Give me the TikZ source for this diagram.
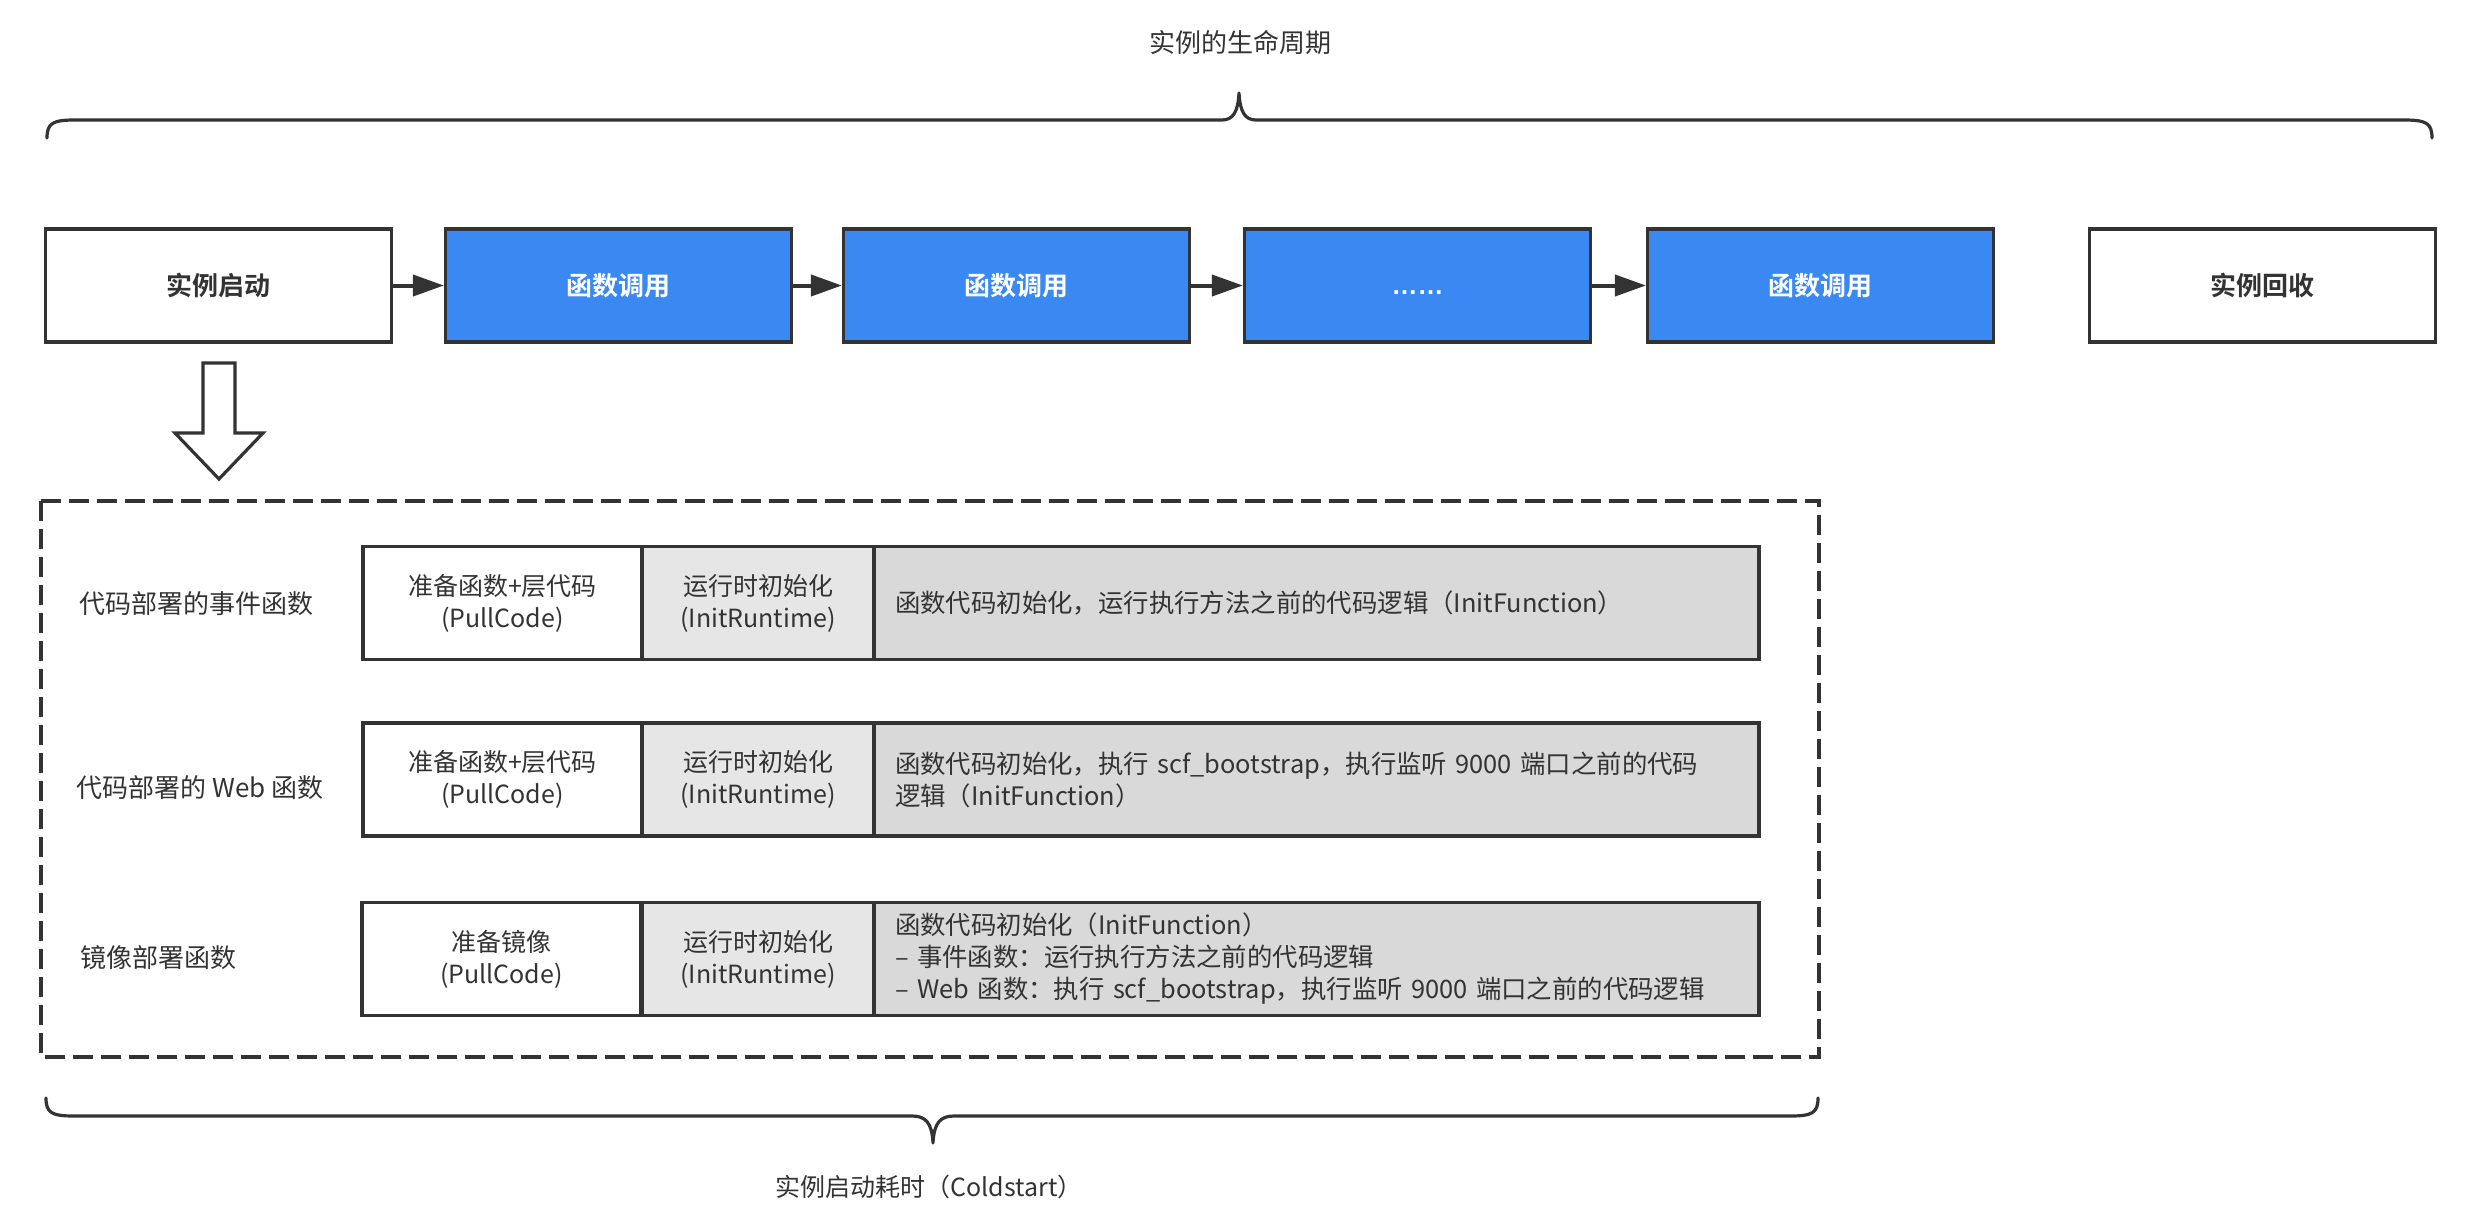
\documentclass[tikz,border=0pt]{standalone}
\usepackage{fontspec}
\setmainfont{Noto Sans CJK SC}[BoldFont={Noto Sans CJK SC Bold}]
\newfontfamily\latf{Liberation Sans}
\usetikzlibrary{arrows.meta}
\definecolor{dk}{HTML}{333333}
\definecolor{blu}{HTML}{3A89F3}
\definecolor{ga}{HTML}{E6E6E6}
\definecolor{gb}{HTML}{D9D9D9}
\begin{document}
\begin{tikzpicture}[x=0.5pt,y=-0.5pt,
  topbox/.style={draw=dk,line width=1.6pt,minimum width=173pt,minimum height=56.5pt,inner sep=0pt,
    font=\bfseries\fontsize{13}{16}\selectfont,text=dk,fill=white},
  bluebox/.style={topbox,fill=blu,text=white},
  conn/.style={draw=dk,line width=2pt,-{Triangle[length=15.5pt,width=10.5pt]}},
  cell/.style={draw=dk,line width=1.6pt,minimum height=56.5pt,inner sep=0pt,align=center,
    font=\fontsize{12.5}{16}\selectfont,text=dk},
  cella/.style={cell,fill=white,minimum width=139.5pt},
  cellb/.style={cell,fill=ga,minimum width=116pt},
  cellc/.style={cell,fill=gb,minimum width=442.5pt,text width=421.5pt,inner xsep=10.5pt,align=left,
    font=\fontsize{12.7}{16}\selectfont},
  rowlabel/.style={anchor=west,inner sep=0pt,font=\fontsize{13}{16}\selectfont,text=dk},
  plain/.style={inner sep=0pt,font=\fontsize{13}{16}\selectfont,text=dk},
  brace/.style={draw=dk,line width=1.6pt,line cap=round,line join=round},
]
\useasboundingbox (0,0) rectangle (2484,1226);

% title and top brace
\node[plain] (title) at (1240,43) {实例的生命周期};
\draw[brace] (47,138) .. controls (47,123) and (53,120) .. (75,120) -- (1222,120)
  .. controls (1233,120) and (1238,112) .. (1239,93)
  .. controls (1240,112) and (1245,120) .. (1256,120) -- (2404,120)
  .. controls (2426,120) and (2432,123) .. (2432,138);

% top row
\node[topbox]  (b1) at (218.5,285.5) {实例启动};
\node[bluebox] (b2) at (618.5,285.5) {函数调用};
\node[bluebox] (b3) at (1016.5,285.5) {函数调用};
\node[bluebox] (b4) at (1417.5,285.5) {\vphantom{函}{\latf ……}};
\node[bluebox] (b5) at (1820.5,285.5) {函数调用};
\node[topbox]  (b6) at (2262.5,285.5) {实例回收};
\draw[conn] (b1) -- (b2);
\draw[conn] (b2) -- (b3);
\draw[conn] (b3) -- (b4);
\draw[conn] (b4) -- (b5);

% hollow down arrow
\draw[draw=dk,line width=1.6pt,fill=white,line join=miter]
  (203,363) -- (235,363) -- (235,433) -- (263,433) -- (219,479) -- (175,433) -- (203,433) -- cycle;

% dashed container
\draw[draw=dk,line width=1.6pt,dash pattern=on 10pt off 4pt] (41,501) rectangle (1819,1057);

% row labels
\node[rowlabel] (l1) at (79,604) {代码部署的事件函数};
\node[rowlabel] (l2) at (76,788) {代码部署的 Web 函数};
\node[rowlabel] (l3) at (80,958) {镜像部署函数};

% row 1
\node[cella] (r1a) at (502.5,603) {准备函数+层代码\\(PullCode)};
\node[cellb] (r1b) at (758,603) {运行时初始化\\(InitRuntime)};
\node[cellc] (r1c) at (1316.5,603) {\mbox{函数代码初始化，运行执行方法之前的代码逻辑（InitFunction）}};

% row 2
\node[cella] (r2a) at (502.5,779.5) {准备函数+层代码\\(PullCode)};
\node[cellb] (r2b) at (758,779.5) {运行时初始化\\(InitRuntime)};
\node[cellc] (r2c) at (1316.5,779.5) {\mbox{函数代码初始化，执行 scf\_bootstrap，执行监听 9000 端口之前的代码}\\\mbox{逻辑（InitFunction）}};

% row 3
\node[cella] (r3a) at (501.5,959) {准备镜像\\(PullCode)};
\node[cellb] (r3b) at (758,959) {运行时初始化\\(InitRuntime)};
\node[cellc] (r3c) at (1316.5,959) {\mbox{函数代码初始化（InitFunction）}\\\mbox{– 事件函数：运行执行方法之前的代码逻辑}\\\mbox{– Web 函数：执行 scf\_bootstrap，执行监听 9000 端口之前的代码逻辑}};

% bottom brace and label
\draw[brace] (46,1098) .. controls (46,1113) and (52,1116) .. (74,1116) -- (912,1116)
  .. controls (925,1116) and (932,1122) .. (933,1143)
  .. controls (934,1122) and (941,1116) .. (954,1116) -- (1790,1116)
  .. controls (1812,1116) and (1818,1113) .. (1818,1098);
\node[plain,font=\fontsize{12.5}{16}\selectfont] (cold) at (929,1187) {实例启动耗时（Coldstart）};
\end{tikzpicture}
\end{document}
